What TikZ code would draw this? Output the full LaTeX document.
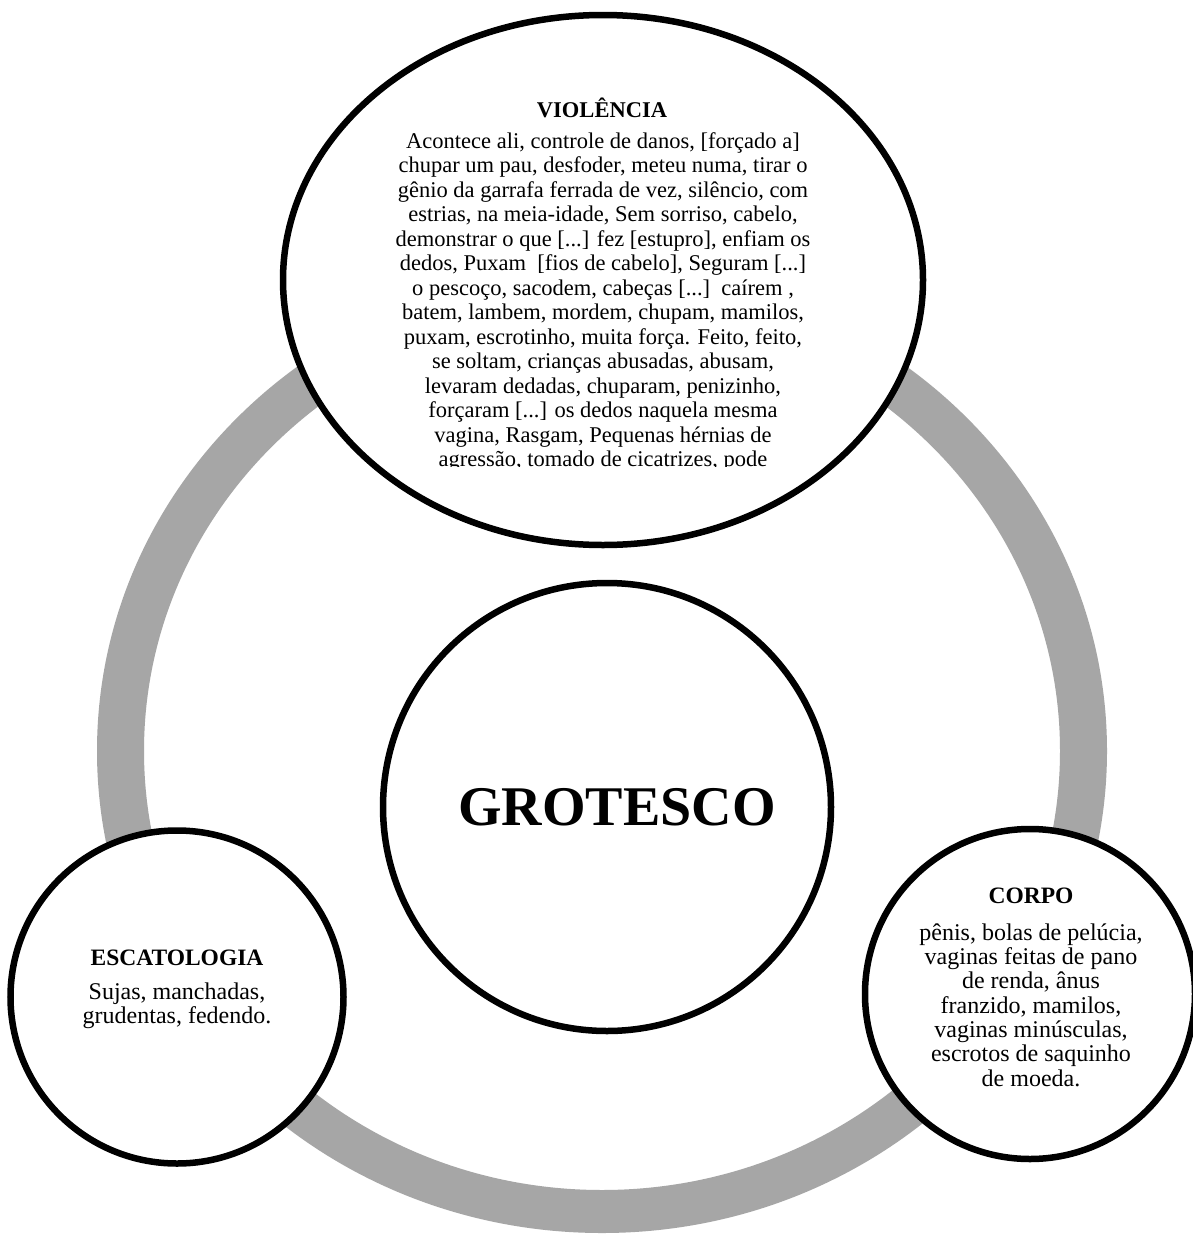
\documentclass[tikz,border=0pt]{standalone}
\usepackage{fontspec}
\setmainfont{Liberation Serif}
\usetikzlibrary{shapes.geometric}
\definecolor{ringgray}{HTML}{A6A6A6}
\begin{document}
\begin{tikzpicture}[x=1pt,y=-1pt,
  bubble/.style={draw=black, line width=6.5pt, fill=white, inner sep=0pt},
  bodytext/.style={align=center, inner sep=0pt, font=\fontsize{24}{24.3}\selectfont},
  topbody/.style={align=center, inner sep=0pt, font=\fontsize{22.5}{24.5}\selectfont},
  titletext/.style={inner sep=0pt, font=\bfseries\fontsize{23.5}{24.5}\selectfont},
]
\useasboundingbox (0,0) rectangle (1192,1237);
\fill[white] (0,0) rectangle (1192,1237);
% ring
\fill[ringgray, even odd rule] (602,751) ellipse [x radius=505pt, y radius=482pt]
                                (602,751) ellipse [x radius=458pt, y radius=439pt];
% bubbles
\node[bubble, ellipse, minimum width=640pt, minimum height=530pt] (viol) at (603,280) {};
\node[bubble, circle, minimum size=448pt] (grot) at (607,807) {};
\node[bubble, circle, minimum size=333pt] (esca) at (177,997) {};
\node[bubble, circle, minimum size=330pt] (corpo) at (1030,994) {};
% texts
\node[titletext, font=\bfseries\fontsize{22.5}{24.5}\selectfont] (violt) at (602,108) {VIOLÊNCIA};
\begin{scope}
\clip (250,0) rectangle (950,466);
\node[topbody, anchor=north] (violb) at (603,132) {Acontece ali, controle de danos, [forçado a]\\
chupar um pau, desfoder, meteu numa, tirar o\\
gênio da garrafa ferrada de vez, silêncio, com\\
estrias, na meia-idade, Sem sorriso, cabelo,\\
demonstrar o que [...] fez [estupro], enfiam os\\
dedos, Puxam\ \ [fios de cabelo], Seguram [...]\\
o pescoço, sacodem, cabeças [...]\ \ caírem ,\\
batem, lambem, mordem, chupam, mamilos,\\
puxam, escrotinho, muita força. Feito, feito,\\
se soltam, crianças abusadas, abusam,\\
levaram dedadas, chuparam, penizinho,\\
forçaram [...] os dedos naquela mesma\\
vagina, Rasgam, Pequenas hérnias de\\
agressão, tomado de cicatrizes, pode};
\end{scope}
\node[inner sep=0pt, font=\bfseries\fontsize{56}{60}\selectfont] (grott) at (617,807) {GROTESCO};
\node[titletext] (escat) at (177,958) {ESCATOLOGIA};
\node[bodytext] (escab) at (177,1006) {Sujas, manchadas,\\grudentas, fedendo.};
\node[titletext] (corpot) at (1031,896) {CORPO};
\node[bodytext] (corpob) at (1031,1005) {pênis, bolas de pelúcia,\\
vaginas feitas de pano\\
de renda, ânus\\
franzido, mamilos,\\
vaginas minúsculas,\\
escrotos de saquinho\\
de moeda.};
\end{tikzpicture}
\end{document}
